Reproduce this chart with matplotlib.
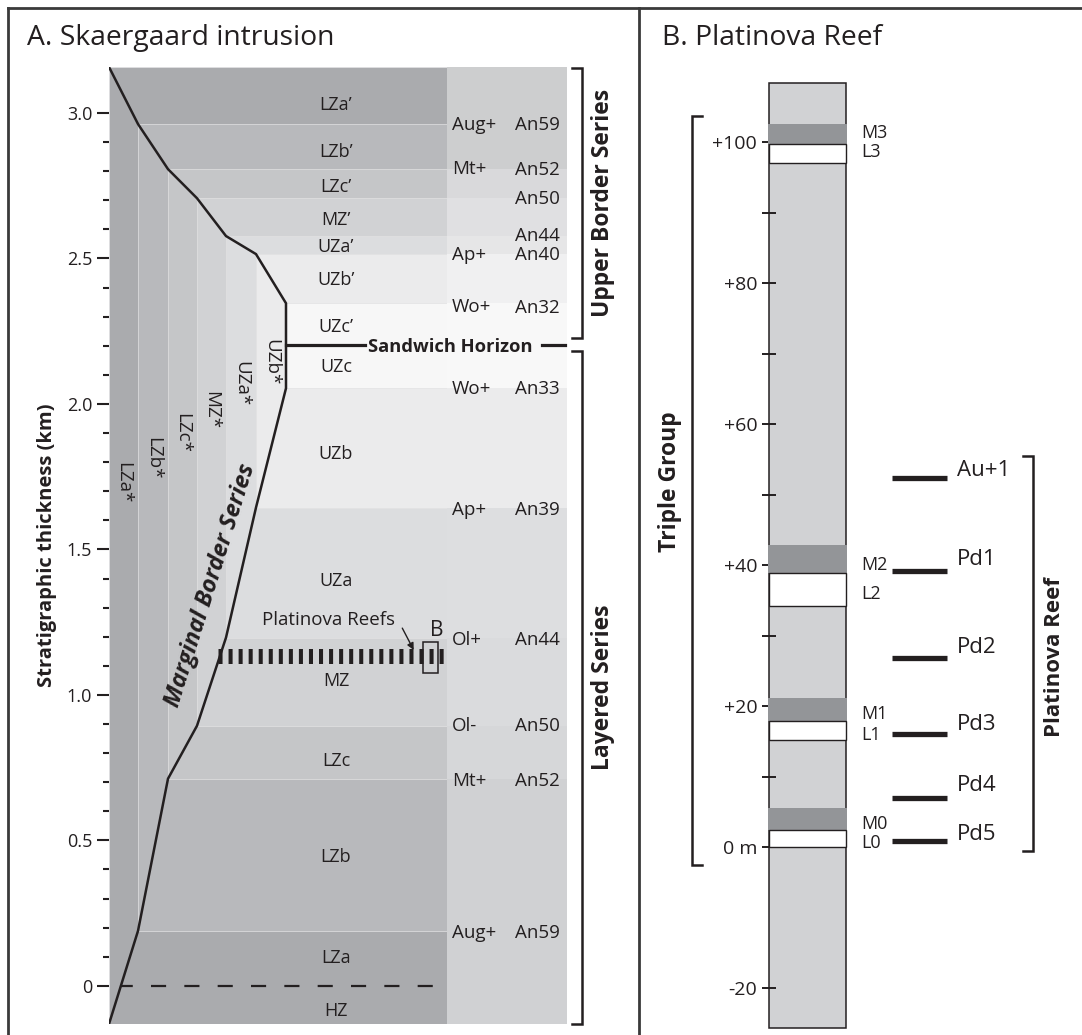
import numpy as np
import matplotlib
matplotlib.use("Agg")
import matplotlib.pyplot as plt
from matplotlib.patches import Rectangle
from matplotlib.lines import Line2D

plt.rcParams['font.family'] = ['Open Sans', 'DejaVu Sans']
INK = "#231f20"
W, H = 1082, 1035

##### PANEL A DATA (km) #####
zones = ["LZa", "LZb", "LZc", "MZ", "UZa", "UZb", "UZc"]
zone_bottom = [-0.131, 0.189, 0.712, 0.894, 1.197, 1.644, 2.054]
zone_top = [3.158, 2.962, 2.807, 2.707, 2.577, 2.515, 2.346]
zone_colors = ["#aaabae", "#b8b9bc", "#c5c6c8", "#d1d2d4", "#dcdddf", "#ebebec", "#f7f7f7"]
sandwich_level = 2.202
reef_level = 1.135

row_labels = ["LZa’", "LZb’", "LZc’", "MZ’", "UZa’", "UZb’", "UZc’",
              "UZc", "UZb", "UZa", "MZ", "LZc", "LZb", "LZa", "HZ"]
row_label_y = [3.034, 2.872, 2.752, 2.638, 2.546, 2.432, 2.270,
               2.133, 1.834, 1.400, 1.056, 0.781, 0.451, 0.103, -0.079]

margin_labels = ["LZa*", "LZb*", "LZc*", "MZ*", "UZa*", "UZb*"]
margin_label_y = [1.730, 1.813, 1.899, 1.978, 2.071, 2.143]

mineral_labels = ["Aug+", "Mt+", "Ap+", "Wo+", "Wo+", "Ap+", "Ol+", "Ol-", "Mt+", "Aug+"]
mineral_y = [2.965, 2.814, 2.518, 2.339, 2.057, 1.644, 1.197, 0.901, 0.712, 0.189]
an_labels = ["An59", "An52", "An50", "An44", "An40", "An32",
             "An33", "An39", "An44", "An50", "An52", "An59"]
an_y = [2.965, 2.810, 2.711, 2.583, 2.518, 2.336,
        2.057, 1.644, 1.197, 0.901, 0.712, 0.189]

# shading of the mineral column
side_bottom = [-0.131, 0.712, 0.894, 1.197, 1.644, 2.054, 2.346, 2.515, 2.577, 2.707, 2.807]
side_top = [0.712, 0.894, 1.197, 1.644, 2.054, 2.346, 2.515, 2.577, 2.707, 2.807, 3.158]
side_colors = ["#d0d1d3", "#d6d7d9", "#dadbdd", "#dddee0", "#ebebec", "#f8f8f8",
               "#f0f0f1", "#e6e6e7", "#e0e0e2", "#d9d9db", "#cdcecf"]

yticks_A = [0, 0.5, 1.0, 1.5, 2.0, 2.5, 3.0]
yticklabels_A = ["0", "0.5", "1.0", "1.5", "2.0", "2.5", "3.0"]

##### PANEL B DATA (m) #####
band_labels = ["M3", "L3", "M2", "L2", "M1", "L1", "M0", "L0"]
band_bottom = [99.7, 97.0, 38.9, 34.2, 17.9, 15.2, 2.4, 0.0]
band_top = [102.6, 99.7, 42.8, 38.9, 21.2, 17.9, 5.5, 2.4]
band_label_y = [101.5, 98.8, 40.3, 36.2, 19.2, 16.2, 3.6, 0.85]

reef_names = ["Au+1", "Pd1", "Pd2", "Pd3", "Pd4", "Pd5"]
reef_y = [52.3, 39.2, 26.8, 16.05, 7.0, 0.85]
reef_label_y = [53.8, 41.2, 28.7, 17.8, 9.1, 2.1]

yticks_B = [-20, 0, 20, 40, 60, 80, 100]
yticklabels_B = ["-20", "0 m", "+20", "+40", "+60", "+80", "+100"]
yminor_B = [10, 30, 50, 70, 90]

# layout (pixel positions)
col_edges = [109, 138, 168, 197, 226, 256, 286]
x_layer_end = 447
x_side_end = 567


def fig_rect(x0, y0, x1, y1):
    return [x0 / W, 1 - y1 / H, (x1 - x0) / W, (y1 - y0) / H]


fig = plt.figure(figsize=(W / 100, H / 100), dpi=100)

##### PANEL A #####
axA = fig.add_axes(fig_rect(109, 67, 640, 1024))
axA.set_xlim(109, 640)
axA.set_ylim(zone_bottom[0], zone_top[0])
axA.patch.set_visible(False)
for s in axA.spines.values():
    s.set_visible(False)
axA.set_xticks([])

# nested zones
for k in range(len(zones)):
    axA.add_patch(Rectangle((col_edges[k], zone_bottom[k]), x_layer_end - col_edges[k],
                            zone_top[k] - zone_bottom[k], facecolor=zone_colors[k],
                            edgecolor="#e2e2e3", linewidth=0.5, zorder=1))
for b, t, c in zip(side_bottom, side_top, side_colors):
    axA.add_patch(Rectangle((x_layer_end, b), x_side_end - x_layer_end, t - b,
                            facecolor=c, edgecolor="none", zorder=1))

# margin line
mx = col_edges + col_edges[::-1]
my = zone_top + zone_bottom[::-1]
axA.plot(mx, my, color=INK, lw=1.8, zorder=4, solid_joinstyle="miter")

# HZ contact
axA.plot([121, x_layer_end], [0, 0], color=INK, lw=1.6, linestyle=(1.5, (6.8, 8.2)), zorder=3)

# Sandwich horizon
axA.plot([col_edges[-1], 365], [sandwich_level, sandwich_level], color=INK, lw=2.3, zorder=4)
axA.plot([542, 565], [sandwich_level, sandwich_level], color=INK, lw=2.3, zorder=4)
axA.text(368, sandwich_level, "Sandwich Horizon", fontsize=13.2, fontweight="bold",
         color=INK, ha="left", va="center_baseline", zorder=5)

# Platinova reefs
axA.plot([218, 449], [reef_level, reef_level], color=INK, lw=10.8,
         linestyle=(0, (0.27, 0.4)), solid_capstyle="butt", zorder=5)
axA.add_patch(Rectangle((423, 1.077), 15, 0.106, facecolor="none", edgecolor=INK,
                        linewidth=1.1, zorder=6))
axA.text(437, 1.222, "B", fontsize=15, color=INK, ha="center", va="center", zorder=6)
axA.annotate("", xy=(415, 1.146), xytext=(401, 1.238),
             arrowprops=dict(arrowstyle="-|>", color=INK, lw=1.0, mutation_scale=10), zorder=6)
axA.text(329, 1.259, "Platinova Reefs", fontsize=13.5, color=INK, ha="center",
         va="center", zorder=6)

# labels
for lab, y in zip(row_labels, row_label_y):
    axA.text(336, y, lab, fontsize=13, color=INK, ha="center", va="center_baseline", zorder=5)
for k, (lab, y) in enumerate(zip(margin_labels, margin_label_y)):
    xc = (col_edges[k] + col_edges[k + 1]) / 2
    axA.text(xc, y, lab, fontsize=13.5, color=INK, ha="center", va="center",
             rotation=270, zorder=5)
for lab, y in zip(mineral_labels, mineral_y):
    axA.text(452, y, lab, fontsize=13.5, color=INK, ha="left", va="center_baseline", zorder=5)
for lab, y in zip(an_labels, an_y):
    axA.text(515, y, lab, fontsize=13.5, color=INK, ha="left", va="center_baseline", zorder=5)

# marginal border series label along the line
axA.text(211, 1.376, "Marginal Border Series", fontsize=17, fontweight="bold",
         fontstyle="italic", color=INK, ha="center", va="center", rotation=72.5,
         rotation_mode="anchor", zorder=5)

# brackets
for y0, y1 in [(3.154, 2.226), (2.181, -0.131)]:
    axA.plot([572, 582, 582, 572], [y0, y0, y1, y1], color=INK, lw=1.8,
             clip_on=False, solid_joinstyle="miter")
axA.text(603, 2.69, "Upper Border Series", fontsize=16.5, fontweight="bold", color=INK,
         rotation=90, ha="center", va="center")
axA.text(603, 1.025, "Layered Series", fontsize=16.5, fontweight="bold", color=INK,
         rotation=90, ha="center", va="center")

# y axis
axA.set_yticks(yticks_A)
axA.set_yticklabels(yticklabels_A, fontsize=13, color=INK)
axA.set_yticks([v / 10 for v in range(1, 30) if v % 5 != 0], minor=True)
axA.tick_params(axis="y", which="major", length=8.6, width=1.5, pad=3.5, color=INK)
axA.tick_params(axis="y", which="minor", length=4.3, width=1.5, color=INK)
axA.set_ylabel("Stratigraphic thickness (km)", fontsize=14.5, fontweight="bold", color=INK)
axA.yaxis.set_label_coords((47 - 109) / (640 - 109), 0.5)
axA.yaxis.label.set_verticalalignment("center")

##### PANEL B #####
axB = fig.add_axes(fig_rect(769, 83, 1082, 1028))
axB.set_xlim(769, 1082)
axB.set_ylim(-25.67, 108.37)
axB.patch.set_visible(False)
for s in axB.spines.values():
    s.set_visible(False)
axB.set_xticks([])

axB.add_patch(Rectangle((769, -25.67), 77, 134.04, facecolor="#d1d2d4", edgecolor=INK,
                        linewidth=1.1, zorder=1, clip_on=False))
for lab, b, t in zip(band_labels, band_bottom, band_top):
    if lab.startswith("M"):
        axB.add_patch(Rectangle((768.3, b), 78.4, t - b, facecolor="#939598",
                                edgecolor="none", zorder=2, clip_on=False))
    else:
        axB.add_patch(Rectangle((769, b), 77, t - b, facecolor="white",
                                edgecolor=INK, linewidth=1.0, zorder=2))
for lab, y in zip(band_labels, band_label_y):
    axB.text(861, y, lab, fontsize=13, color=INK, ha="left", va="center_baseline")

axB.hlines(reef_y, 892, 947, color=INK, lw=3.8)
for lab, y in zip(reef_names, reef_label_y):
    axB.text(957, y, lab, fontsize=16, color=INK, ha="left", va="center_baseline")

# brackets
axB.plot([702, 692, 692, 702], [103.7, 103.7, -2.6, -2.6], color=INK, lw=1.8,
         clip_on=False, solid_joinstyle="miter")
axB.text(670, 51.8, "Triple Group", fontsize=16.5, fontweight="bold", color=INK,
         rotation=90, ha="center", va="center", clip_on=False)
axB.plot([1023, 1033, 1033, 1023], [55.5, 55.5, -0.6, -0.6], color=INK, lw=1.8,
         clip_on=False, solid_joinstyle="miter")
axB.text(1055, 27.0, "Platinova Reef", fontsize=16, fontweight="bold", color=INK,
         rotation=90, ha="center", va="center")

axB.set_yticks(yticks_B)
axB.set_yticklabels(yticklabels_B, fontsize=14, color=INK)
axB.set_yticks(yminor_B, minor=True)
axB.tick_params(axis="y", which="both", direction="inout", length=10, width=1.4,
                pad=3.5, color=INK)

##### TITLES AND FRAME #####
fig.text(27 / W, 1 - 45 / H, "A. Skaergaard intrusion", fontsize=20.3, color=INK,
         ha="left", va="baseline")
fig.text(662 / W, 1 - 45 / H, "B. Platinova Reef", fontsize=20.3, color=INK,
         ha="left", va="baseline")
frame = dict(color="#3a3a3a", lw=2.0, transform=fig.transFigure, zorder=10)
fig.add_artist(Line2D([8 / W, 1], [1 - 8 / H, 1 - 8 / H], **frame))
fig.add_artist(Line2D([8 / W, 8 / W], [0, 1 - 8 / H], **frame))
fig.add_artist(Line2D([639 / W, 639 / W], [0, 1 - 8 / H], **frame))

plt.savefig("out.png", dpi=100)
